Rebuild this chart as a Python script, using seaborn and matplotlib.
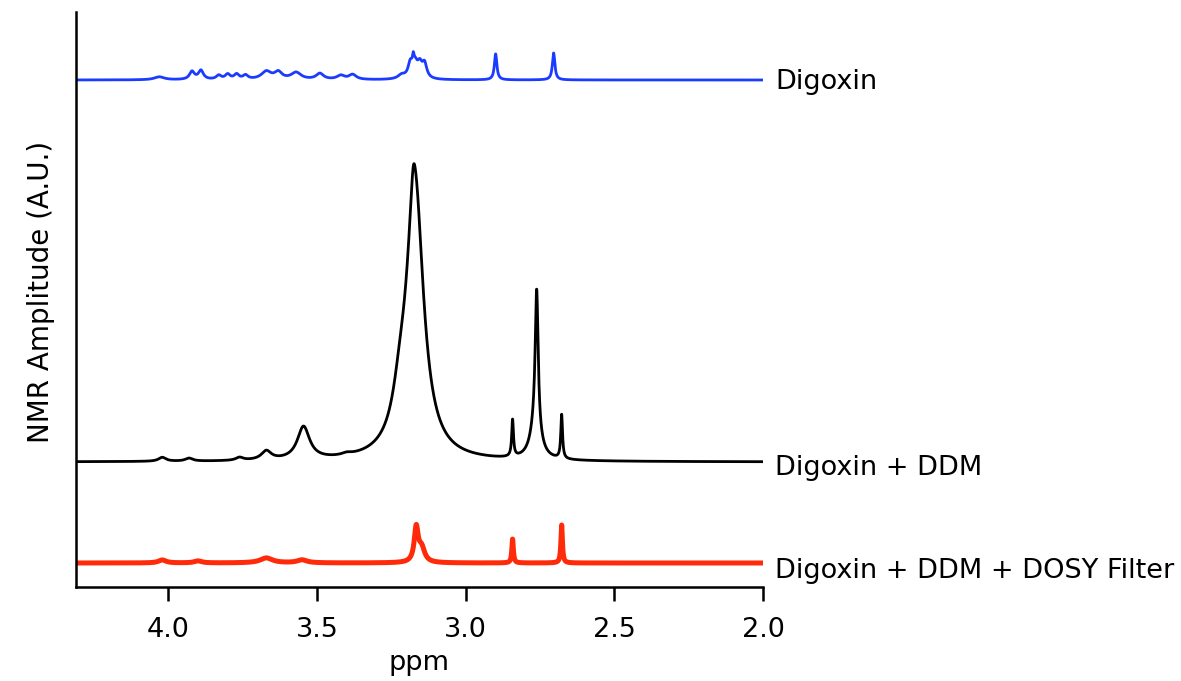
import numpy as np
import pandas as pd
import matplotlib
matplotlib.use("Agg")
import matplotlib.pyplot as plt
import seaborn as sns

# ---- data (ppm, height in A.U., linewidth in ppm) ----
blue_ppm    = [2.704, 2.899, 3.186, 3.170, 3.154, 3.138, 3.176, 3.215, 3.380, 3.420,
               3.490, 3.570, 3.630, 3.670, 3.740, 3.770, 3.800, 3.830, 3.890, 3.920,
               4.030]
blue_height = [27, 26, 14, 13, 13, 14, 9, 4, 5, 4, 6, 7, 7, 8, 4, 5, 5, 4, 9, 8, 3]
blue_width  = [0.010, 0.010, 0.018, 0.020, 0.020, 0.018, 0.006, 0.030, 0.030, 0.030,
               0.030, 0.040, 0.030, 0.040, 0.020, 0.020, 0.020, 0.020, 0.020, 0.020,
               0.040]

black_ppm    = [3.170, 3.220, 3.176, 3.545, 3.670, 3.760, 3.930, 4.020, 3.400,
                2.761, 2.765, 2.842, 2.677]
black_height = [270, 35, 22, 33, 9, 3, 3, 4, 2, 140, 32, 37, 44]
black_width  = [0.070, 0.060, 0.018, 0.050, 0.040, 0.030, 0.030, 0.030, 0.040,
                0.012, 0.040, 0.007, 0.007]

red_ppm    = [3.166, 3.148, 2.842, 2.677, 3.670, 3.550, 4.020, 3.900]
red_height = [34, 14, 24, 38, 5, 3, 3, 2]
red_width  = [0.016, 0.025, 0.006, 0.006, 0.050, 0.040, 0.030, 0.030]

labels = ["Digoxin", "Digoxin + DDM", "Digoxin + DDM + DOSY Filter"]
offsets = {"Digoxin": 507, "Digoxin + DDM": 125, "Digoxin + DDM + DOSY Filter": 24}
label_baseline = {"Digoxin": 498, "Digoxin + DDM": 112, "Digoxin + DDM + DOSY Filter": 9}
colors = {"Digoxin": "#1b3cff", "Digoxin + DDM": "#000000",
          "Digoxin + DDM + DOSY Filter": "#ff2a0a"}
xticks = [4.0, 3.5, 3.0, 2.5, 2.0]

# ---- spectra built from the peak lists (Lorentzian line shapes) ----
ppm = np.linspace(4.31, 2.0, 4000)

def spectrum(pos, hgt, wid):
    y = np.zeros_like(ppm)
    for p, h, w in zip(pos, hgt, wid):
        y += h / (1.0 + ((ppm - p) / (w / 2.0)) ** 2)
    return y

peaks = {"Digoxin": (blue_ppm, blue_height, blue_width),
         "Digoxin + DDM": (black_ppm, black_height, black_width),
         "Digoxin + DDM + DOSY Filter": (red_ppm, red_height, red_width)}

frames = []
for lab in labels:
    frames.append(pd.DataFrame({"ppm": ppm,
                                "amp": spectrum(*peaks[lab]) + offsets[lab],
                                "trace": lab}))
df = pd.concat(frames, ignore_index=True)

sns.set_style("ticks")
plt.rcParams["font.family"] = ["DejaVu Sans"]
plt.rcParams["text.color"] = "black"
plt.rcParams["axes.labelcolor"] = "black"

fig = plt.figure(figsize=(11.81, 6.81), dpi=100)
ax = fig.add_axes([76 / 1181, 1 - 587 / 681, (763 - 76) / 1181, (587 - 12) / 681])

lw = {"Digoxin": 2.0, "Digoxin + DDM": 2.0, "Digoxin + DDM + DOSY Filter": 3.6}
for lab in labels:
    sns.lineplot(data=df[df["trace"] == lab], x="ppm", y="amp", color=colors[lab],
                 linewidth=lw[lab], estimator=None, sort=False, ax=ax, legend=False)

ax.set_xlim(4.31, 2.0)
ax.set_ylim(0, 575)
ax.set_xticks(xticks)
ax.set_xticklabels([f"{t:.1f}" for t in xticks])
ax.set_yticks([])
for s in ["top", "right"]:
    ax.spines[s].set_visible(False)
for s in ["left", "bottom"]:
    ax.spines[s].set_linewidth(1.8)
    ax.spines[s].set_color("black")
ax.tick_params(axis="x", direction="out", length=10, width=1.8, pad=11.5,
               labelsize=19.5, colors="black")
ax.set_xlabel("ppm", fontsize=19.5, labelpad=5)
ax.set_ylabel("NMR Amplitude (A.U.)", fontsize=20)
ax.yaxis.set_label_coords(-0.031, 0.513)

for lab in labels:
    ax.text(1.96, label_baseline[lab], lab, fontsize=19.5, va="baseline",
            ha="left", clip_on=False, color="black")

fig.savefig("out.png", dpi=100)
